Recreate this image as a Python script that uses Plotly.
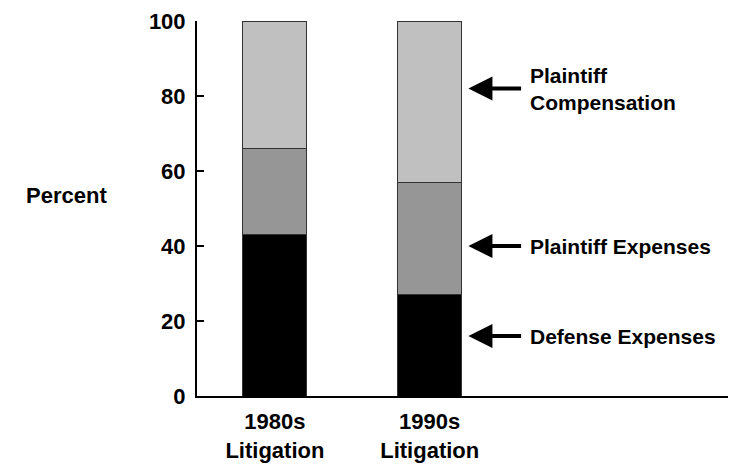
import plotly.graph_objects as go

# Litigation cost shares (percent of total)
periods = ['1980s<br>Litigation', '1990s<br>Litigation']
defense_expenses = [43, 27]
plaintiff_expenses = [23, 30]
plaintiff_compensation = [34, 43]

# where each arrow points (percent level)
label_texts = ['Plaintiff<br>Compensation', 'Plaintiff Expenses', 'Defense Expenses']
label_levels = [82, 40, 16]

FONT = 'Arial, Liberation Sans, sans-serif'
FS = 22
xpos = [0, 1]

fig = go.Figure()

for name, vals, color in [('Defense Expenses', defense_expenses, '#000000'),
                          ('Plaintiff Expenses', plaintiff_expenses, '#969696'),
                          ('Plaintiff Compensation', plaintiff_compensation, '#c0c0c0')]:
    fig.add_trace(go.Bar(
        name=name,
        x=xpos,
        y=vals,
        width=0.413,
        marker=dict(color=color, line=dict(color='#333333', width=1)),
        hoverinfo='name+y'
    ))

# arrows and labels on the right
for txt, lvl in zip(label_texts, label_levels):
    fig.add_annotation(x=1.25, y=lvl, ax=1.6, ay=lvl, xref='x', yref='y',
                       axref='x', ayref='y', text='', showarrow=True,
                       arrowhead=2, arrowsize=1.2, arrowwidth=4, arrowcolor='black')
    fig.add_annotation(x=1.635, y=lvl, xref='x', yref='y', text=txt, showarrow=False,
                       xanchor='left', yanchor='middle', align='left',
                       font=dict(family=FONT, size=21, color='black'))

fig.add_annotation(x=-0.16, y=0.535, xref='paper', yref='paper', text='<b>Percent</b>',
                   showarrow=False, xanchor='right', yanchor='middle',
                   font=dict(family=FONT, size=FS, color='black'))

fig.update_layout(
    barmode='stack',
    width=736, height=465,
    margin=dict(l=189, r=0, t=13, b=77),
    paper_bgcolor='white',
    plot_bgcolor='white',
    showlegend=False,
    font=dict(family=FONT, size=FS, color='black', weight='bold'),
    xaxis=dict(
        range=[-0.503, 3.03],
        tickvals=xpos,
        ticktext=periods,
        showline=True, linewidth=2, linecolor='black',
        ticks='', showgrid=False, zeroline=False,
        ticklabelstandoff=5,
        tickfont=dict(family=FONT, size=FS, weight='bold')
    ),
    yaxis=dict(
        range=[0, 100],
        tickvals=[0, 20, 40, 60, 80, 100],
        showline=True, linewidth=2, linecolor='black',
        ticks='inside', ticklen=7, tickwidth=2, tickcolor='black',
        showgrid=False, zeroline=False,
        ticklabelstandoff=5,
        tickfont=dict(family=FONT, size=FS, weight='bold')
    )
)

fig.write_html("out.html")
